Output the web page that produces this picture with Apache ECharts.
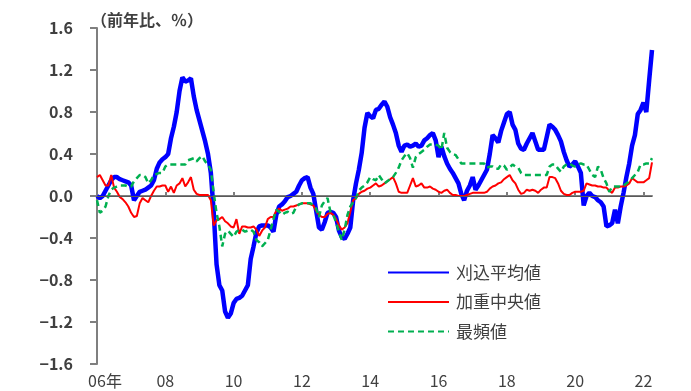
<!DOCTYPE html>
<html><head><meta charset="utf-8">
<script src="https://cdn.jsdelivr.net/npm/echarts@6/dist/echarts.min.js"></script>
<style>html,body{margin:0;padding:0;background:#fff}#c{width:691px;height:391px}</style>
</head><body><div id="c"></div>
<script>
// Monthly, Jan 2006 .. Apr 2022
const startYear = 2006, endYear = 2022, endMonth = 4;
const xTickLabels = ['06年','08','10','12','14','16','18','20','22'];
const yTicks = [-1.6,-1.2,-0.8,-0.4,0.0,0.4,0.8,1.2,1.6];
const seriesNames = ['刈込平均値','加重中央値','最頻値'];
const unitLabel = '（前年比、％）';

const trimmedMean = [
 0.00,-0.02,0.00,0.05,0.10,0.15,0.18,0.18,0.16,0.15,0.14,0.13,
 0.10,-0.04,0.00,0.04,0.05,0.06,0.08,0.10,0.15,0.26,0.32,0.35,
 0.37,0.40,0.55,0.66,0.80,1.00,1.13,1.09,1.10,1.12,0.95,0.82,
 0.72,0.62,0.52,0.40,0.22,-0.15,-0.65,-0.85,-0.90,-1.10,-1.16,-1.12,
 -1.02,-0.98,-0.97,-0.95,-0.90,-0.85,-0.60,-0.48,-0.35,-0.29,-0.28,-0.28,
 -0.28,-0.30,-0.34,-0.18,-0.10,-0.08,-0.05,-0.01,0.00,0.02,0.04,0.10,
 0.15,0.17,0.18,0.08,0.02,-0.14,-0.30,-0.32,-0.25,-0.16,-0.15,-0.16,
 -0.20,-0.33,-0.39,-0.41,-0.36,-0.30,-0.04,0.12,0.25,0.41,0.65,0.79,
 0.76,0.74,0.82,0.83,0.87,0.90,0.85,0.75,0.68,0.60,0.48,0.42,
 0.48,0.49,0.47,0.48,0.50,0.47,0.48,0.53,0.55,0.58,0.60,0.53,
 0.37,0.47,0.38,0.31,0.26,0.22,0.17,0.12,0.02,-0.04,0.05,0.10,
 0.18,0.06,0.10,0.15,0.20,0.25,0.40,0.58,0.55,0.51,0.62,0.70,
 0.78,0.80,0.68,0.63,0.50,0.45,0.44,0.50,0.55,0.60,0.52,0.44,
 0.44,0.44,0.56,0.68,0.66,0.63,0.58,0.52,0.42,0.34,0.28,0.30,
 0.33,0.28,0.22,-0.09,0.00,0.03,0.00,-0.01,-0.04,-0.06,-0.10,-0.29,
 -0.28,-0.26,-0.13,-0.26,-0.10,0.03,0.18,0.31,0.48,0.58,0.78,0.82,
 0.89,0.80,1.10,1.39
];
const weightedMedian = [
 0.18,0.20,0.15,0.10,0.10,0.20,0.08,0.04,-0.01,-0.03,-0.06,-0.10,
 -0.16,-0.20,-0.19,-0.07,-0.02,-0.04,-0.06,0.00,0.05,0.09,0.09,0.10,
 0.10,0.04,0.09,0.03,0.10,0.12,0.17,0.09,0.13,0.18,0.06,0.02,
 0.01,0.01,0.01,0.01,-0.04,-0.28,-0.23,-0.22,-0.20,-0.24,-0.26,-0.29,
 -0.30,-0.22,-0.36,-0.29,-0.29,-0.30,-0.30,-0.29,-0.32,-0.38,-0.33,-0.30,
 -0.22,-0.20,-0.20,-0.14,-0.12,-0.14,-0.13,-0.12,-0.10,-0.10,-0.09,-0.08,
 -0.07,-0.07,-0.07,-0.08,-0.09,-0.14,-0.18,-0.20,-0.20,-0.17,-0.16,-0.18,
 -0.22,-0.28,-0.32,-0.30,-0.26,-0.15,-0.04,-0.02,0.02,0.04,0.05,0.07,
 0.08,0.10,0.12,0.09,0.10,0.12,0.14,0.16,0.18,0.12,0.04,0.03,
 0.03,0.03,0.10,0.17,0.09,0.10,0.12,0.08,0.08,0.09,0.07,0.06,
 0.04,0.03,0.05,0.06,0.03,0.01,0.01,0.00,0.00,0.00,0.01,0.02,
 0.03,0.03,0.03,0.03,0.03,0.04,0.07,0.09,0.10,0.12,0.13,0.16,
 0.18,0.20,0.15,0.12,0.06,0.02,0.03,0.06,0.05,0.06,0.05,0.03,
 0.06,0.08,0.08,0.18,0.18,0.17,0.12,0.05,0.02,0.01,0.01,0.03,
 0.04,0.04,0.04,0.05,0.12,0.11,0.10,0.10,0.09,0.09,0.08,0.08,
 0.05,0.03,0.08,0.08,0.09,0.09,0.10,0.12,0.17,0.15,0.13,0.13,
 0.13,0.15,0.17,0.32
];
const mode = [
 -0.04,-0.16,-0.14,-0.10,0.00,0.06,0.08,0.09,0.10,0.10,0.10,0.09,
 0.09,0.14,0.17,0.20,0.20,0.18,0.12,0.15,0.20,0.21,0.22,0.22,
 0.28,0.30,0.30,0.30,0.30,0.30,0.30,0.30,0.34,0.35,0.36,0.33,
 0.36,0.38,0.33,0.30,0.25,0.03,-0.16,-0.29,-0.48,-0.36,-0.33,-0.36,
 -0.39,-0.34,-0.32,-0.32,-0.34,-0.33,-0.32,-0.34,-0.42,-0.44,-0.48,-0.45,
 -0.42,-0.32,-0.22,-0.13,-0.15,-0.18,-0.16,-0.15,-0.17,-0.16,-0.10,-0.08,
 -0.07,-0.07,-0.07,-0.07,-0.09,-0.12,-0.20,-0.09,-0.05,-0.02,-0.15,-0.18,
 -0.25,-0.34,-0.42,-0.32,-0.18,-0.10,-0.06,-0.02,0.05,0.08,0.10,0.13,
 0.18,0.16,0.15,0.20,0.16,0.12,0.14,0.16,0.18,0.22,0.27,0.34,
 0.38,0.41,0.36,0.27,0.37,0.40,0.42,0.44,0.47,0.49,0.49,0.49,
 0.48,0.44,0.60,0.46,0.42,0.40,0.39,0.35,0.31,0.31,0.31,0.31,
 0.31,0.31,0.31,0.31,0.31,0.27,0.28,0.28,0.26,0.26,0.30,0.29,
 0.25,0.27,0.30,0.28,0.27,0.22,0.20,0.20,0.20,0.20,0.20,0.20,
 0.20,0.20,0.20,0.28,0.30,0.30,0.26,0.23,0.28,0.30,0.31,0.29,
 0.28,0.30,0.31,0.30,0.30,0.25,0.20,0.18,0.28,0.25,0.17,0.12,
 0.04,0.09,0.09,0.09,0.09,0.10,0.12,0.14,0.17,0.20,0.23,0.30,
 0.30,0.31,0.31,0.36
];

const categories = [];
for (let y = startYear; y <= endYear; y++) {
  for (let m = 1; m <= 12; m++) {
    if (y === endYear && m > endMonth) break;
    categories.push(y + '/' + m);
  }
}

const FONT = '"Noto Sans CJK JP", "Noto Sans", sans-serif';
const chart = echarts.init(document.getElementById('c'), null, {renderer: 'canvas'});
const isTick = (i) => i % 24 === 0;

chart.setOption({
  animation: false,
  backgroundColor: '#fff',
  title: {
    text: unitLabel, left: 86, top: 7,
    textStyle: {fontFamily: FONT, fontSize: 16, fontWeight: 'bold', color: '#404040'}
  },
  grid: {left: 97, right: 39, top: 28, bottom: 27, containLabel: false},
  legend: {
    orient: 'vertical', left: 382, top: 259, itemWidth: 61, itemHeight: 14, itemGap: 12.5,
    data: seriesNames,
    itemStyle: {opacity: 0, borderWidth: 0},
    textStyle: {fontFamily: FONT, fontSize: 17, color: '#404040', padding: [0,0,0,2]}
  },
  xAxis: {
    type: 'category', data: categories, boundaryGap: false,
    axisLine: {lineStyle: {color: '#7f7f7f', width: 2}},
    axisTick: {show: true, inside: true, length: 4, interval: (i) => isTick(i), lineStyle: {color: '#7f7f7f', width: 2}},
    axisLabel: {
      interval: (i) => isTick(i), margin: 9, fontFamily: FONT, fontSize: 16, color: '#404040',
      formatter: (v, i) => { const t = xTickLabels[i / 24]; return i === 0 ? '{pad|}' + t : t; },
      rich: {pad: {width: 16}}
    },
    splitLine: {show: false}
  },
  yAxis: {
    type: 'value', min: yTicks[0], max: yTicks[yTicks.length - 1], interval: 0.4,
    axisLine: {show: true, lineStyle: {color: '#7f7f7f', width: 2}},
    axisTick: {show: true, length: 7, lineStyle: {color: '#7f7f7f', width: 2}},
    axisLabel: {
      margin: 24, fontFamily: FONT, fontSize: 16, fontWeight: 'bold', color: '#404040',
      formatter: (v) => (v < 0 ? '−' : '') + Math.abs(v).toFixed(1)
    },
    splitLine: {show: false}
  },
  series: [
    {name: seriesNames[0], type: 'line', data: trimmedMean, showSymbol: false, symbol: 'none',
     lineStyle: {color: '#0000ff', width: 4.5}, itemStyle: {color: '#0000ff'}, z: 2,
     markLine: {silent: true, symbol: 'none', label: {show: false},
       lineStyle: {color: '#595959', width: 1, type: 'solid'}, data: [{yAxis: 0}]}},
    {name: seriesNames[1], type: 'line', data: weightedMedian, showSymbol: false, symbol: 'none',
     lineStyle: {color: '#ff0000', width: 2}, itemStyle: {color: '#ff0000'}, z: 3},
    {name: seriesNames[2], type: 'line', data: mode, showSymbol: false, symbol: 'none',
     lineStyle: {color: '#00b050', width: 2.5, type: [6, 4]}, itemStyle: {color: '#00b050'}, z: 4}
  ]
});
</script></body></html>
